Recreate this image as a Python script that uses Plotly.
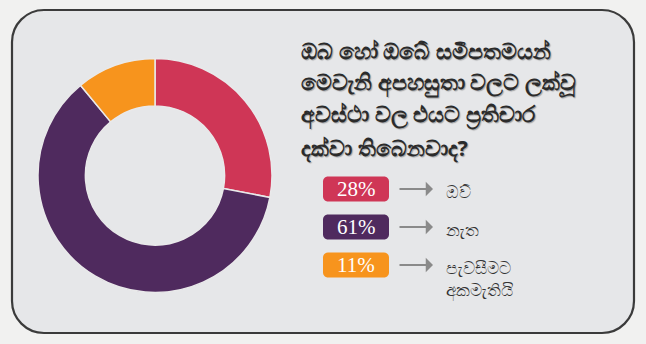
import plotly.graph_objects as go

W, H = 646, 344

# ---- data ----
labels = ["ඔව්", "නැත", "පැවසීමට<br>අකමැතියි"]
values = [28, 61, 11]
colors = ["#cf3656", "#4f2a5e", "#f7941d"]
title_lines = [
    "ඔබ හෝ ඔබේ සමීපතමයන්",
    "මෙවැනි අපහසුතා වලට ලක්වූ",
    "අවස්ථා වල එයට ප්‍රතිචාර",
    "දක්වා තිබෙනවාද?",
]


def px(x):
    return x / W


def py(y):
    return 1 - y / H


def rrect(x0, y0, x1, y1, r):
    k = 0.5523 * r
    p = lambda x, y: f"{px(x):.5f},{py(y):.5f}"
    d = f"M {p(x0 + r, y0)} L {p(x1 - r, y0)} "
    d += f"C {p(x1 - r + k, y0)} {p(x1, y0 + r - k)} {p(x1, y0 + r)} "
    d += f"L {p(x1, y1 - r)} "
    d += f"C {p(x1, y1 - r + k)} {p(x1 - r + k, y1)} {p(x1 - r, y1)} "
    d += f"L {p(x0 + r, y1)} "
    d += f"C {p(x0 + r - k, y1)} {p(x0, y1 - r + k)} {p(x0, y1 - r)} "
    d += f"L {p(x0, y0 + r)} "
    d += f"C {p(x0, y0 + r - k)} {p(x0 + r - k, y0)} {p(x0 + r, y0)} Z"
    return d


cx, cy, R = 155, 175.5, 117

fig = go.Figure()
fig.add_trace(go.Pie(
    values=values,
    labels=labels,
    marker=dict(colors=colors, line=dict(color="#e9e9ea", width=1.5)),
    hole=0.595,
    sort=False,
    direction="clockwise",
    rotation=0,
    textinfo="none",
    hoverinfo="label+percent",
    showlegend=False,
    domain=dict(x=[px(cx - R), px(cx + R)], y=[py(cy + R), py(cy - R)]),
))

shapes = [dict(
    type="path", xref="paper", yref="paper", layer="below",
    path=rrect(12, 10, 634, 333, 32),
    fillcolor="#e6e7e9", line=dict(color="#3b3b3b", width=2.2),
)]

annotations = []
for i, line in enumerate(title_lines):
    annotations.append(dict(
        x=px(299), y=py(50 + i * 32.5), xref="paper", yref="paper",
        xanchor="left", yanchor="middle", showarrow=False,
        text=f"<b>{line}</b>",
        font=dict(size=21.5, color="#2b2b2b", family="Noto Sans, DejaVu Sans, sans-serif",
                  shadow="1px 1px 1px rgba(0,0,0,0.3)"),
    ))

row_y = [189, 227, 265]
for i, (lab, v, c) in enumerate(zip(labels, values, colors)):
    yc = row_y[i]
    shapes.append(dict(
        type="path", xref="paper", yref="paper", layer="above",
        path=rrect(323, yc - 12.5, 389, yc + 12.5, 5),
        fillcolor=c, line=dict(width=0),
    ))
    annotations.append(dict(
        x=px(356), y=py(yc), xref="paper", yref="paper",
        xanchor="center", yanchor="middle", showarrow=False,
        text=f"{v}%",
        font=dict(size=21, color="white", family="Liberation Serif, serif"),
    ))
    annotations.append(dict(
        x=px(433), y=py(yc), xref="paper", yref="paper",
        ax=-35, ay=0, text="", showarrow=True,
        arrowhead=1, arrowsize=1.1, arrowwidth=2.2, arrowcolor="#8a8a8a",
    ))
    annotations.append(dict(
        x=px(444), y=py(yc - 11), xref="paper", yref="paper",
        xanchor="left", yanchor="top", showarrow=False, align="left",
        text=lab,
        font=dict(size=17, color="#333333", family="Noto Sans, DejaVu Sans, sans-serif"),
    ))

fig.update_layout(
    width=W, height=H,
    margin=dict(l=0, r=0, t=0, b=0),
    paper_bgcolor="#f1f1f0",
    plot_bgcolor="#f1f1f0",
    shapes=shapes,
    annotations=annotations,
)

fig.write_html("out.html")
